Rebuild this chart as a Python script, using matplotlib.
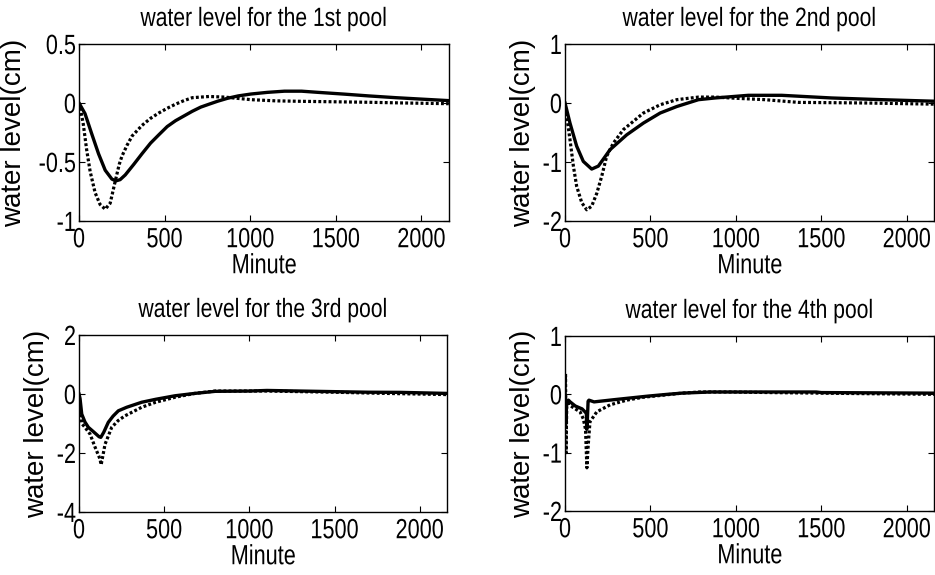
import matplotlib
matplotlib.use("Agg")
import matplotlib.pyplot as plt
from matplotlib.patheffects import AbstractPathEffect
from matplotlib.transforms import Affine2D

plt.rcParams["axes.unicode_minus"] = False

# ---- pool 1 -------------------------------------------------------------
p1_t_solid = [0, 35, 74, 114, 153, 192, 215, 240, 270, 320, 368, 418, 466, 515,
              564, 613, 662, 711, 760, 810, 868, 930, 1005, 1100, 1200, 1300,
              1397, 1550, 1691, 1850, 1985, 2160]
p1_solid = [0, -0.09, -0.26, -0.43, -0.57, -0.645, -0.66, -0.65, -0.61, -0.52,
            -0.43, -0.34, -0.27, -0.2, -0.15, -0.11, -0.07, -0.035, -0.01, 0.015,
            0.04, 0.06, 0.076, 0.09, 0.1, 0.1, 0.09, 0.075, 0.06, 0.045, 0.034,
            0.02]
p1_t_dotted = [0, 6, 25, 45, 65, 94, 123, 153, 182, 212, 235, 251, 280, 310,
               368, 418, 466, 515, 564, 613, 662, 760, 850, 1005, 1150, 1300,
               1500, 1691, 1900, 2160]
p1_dotted = [0, -0.03, -0.18, -0.4, -0.58, -0.76, -0.86, -0.9, -0.85, -0.66,
             -0.52, -0.45, -0.36, -0.28, -0.19, -0.13, -0.085, -0.045, -0.01,
             0.02, 0.045, 0.055, 0.05, 0.028, 0.018, 0.014, 0.01, 0.006, 0,
             -0.006]

# ---- pool 2 -------------------------------------------------------------
p2_t_solid = [0, 29, 68, 107, 156, 195, 264, 361, 459, 557, 654, 781, 878,
              1073, 1268, 1561, 1854, 2160]
p2_solid = [0, -0.34, -0.73, -0.99, -1.12, -1.07, -0.79, -0.54, -0.34, -0.17,
            -0.06, 0.056, 0.085, 0.13, 0.13, 0.085, 0.056, 0.03]
p2_t_dotted = [0, 10, 29, 49, 68, 98, 127, 156, 186, 215, 244, 283, 342, 459,
               557, 654, 781, 878, 1000, 1170, 1366, 1756, 2160]
p2_dotted = [0, -0.23, -0.62, -1.07, -1.41, -1.69, -1.81, -1.75, -1.53, -1.24,
             -0.9, -0.68, -0.45, -0.17, -0.03, 0.056, 0.1, 0.1, 0.08, 0.056,
             0.01, 0, -0.02]

# ---- pool 3 -------------------------------------------------------------
p3_t_solid = [0, 6, 16, 35, 55, 85, 118, 128, 145, 172, 200, 231, 280, 368,
              450, 564, 680, 800, 1000, 1103, 1300, 1495, 1700, 1887, 2160]
p3_solid = [0, -0.15, -0.68, -0.95, -1.13, -1.28, -1.45, -1.47, -1.3, -0.96,
            -0.75, -0.57, -0.45, -0.28, -0.18, -0.06, 0.02, 0.09, 0.1, 0.12,
            0.1, 0.08, 0.06, 0.055, 0.02]
p3_t_dotted = [0, 6, 16, 35, 65, 94, 123, 130, 153, 192, 230, 270, 368, 450,
               564, 680, 800, 1103, 1495, 1800, 2160]
p3_dotted = [0, -0.45, -1.0, -1.13, -1.36, -1.8, -2.2, -2.4, -1.7, -1.13, -0.9,
             -0.74, -0.45, -0.28, -0.11, 0.02, 0.1, 0.1, 0.06, 0.02, -0.02]

# ---- pool 4 -------------------------------------------------------------
p4_t_solid = [0, 3, 6, 9, 20, 30, 60, 100, 117, 125, 127, 130, 135, 140, 170,
              200, 293, 390, 488, 600, 683, 850, 976, 1200, 1470, 1500, 2160]
p4_solid = [0, -0.05, -0.5, -0.15, -0.1, -0.13, -0.2, -0.25, -0.3, -0.33, -0.6,
            -0.5, -0.12, -0.1, -0.13, -0.12, -0.09, -0.06, -0.03, 0.0, 0.02,
            0.04, 0.04, 0.04, 0.04, 0.03, 0.02]
p4_t_dotted = [0, 3, 6, 10, 20, 29, 60, 88, 107, 120, 128, 135, 146, 186, 264,
               361, 457, 557, 683, 791, 976, 1200, 1500, 1800, 2160]
p4_dotted = [0, 0.35, -1.0, -0.2, -0.15, -0.19, -0.25, -0.3, -0.42, -0.6,
             -1.26, -0.9, -0.47, -0.3, -0.18, -0.1, -0.05, -0.02, 0.02, 0.04,
             0.04, 0.03, 0.02, 0.01, 0.0]

titles = ["water level for the 1st pool", "water level for the 2nd pool",
          "water level for the 3rd pool", "water level for the 4th pool"]
y_ticks = [[-1, -0.5, 0, 0.5], [-2, -1, 0, 1], [-4, -2, 0, 2], [-2, -1, 0, 1]]
y_labels = [["-1", "-0.5", "0", "0.5"], ["-2", "-1", "0", "1"],
            ["-4", "-2", "0", "2"], ["-2", "-1", "0", "1"]]
x_ticks = [0, 500, 1000, 1500, 2000]
x_max = 2160

series = [
    (p1_t_solid, p1_solid, p1_t_dotted, p1_dotted),
    (p2_t_solid, p2_solid, p2_t_dotted, p2_dotted),
    (p3_t_solid, p3_solid, p3_t_dotted, p3_dotted),
    (p4_t_solid, p4_solid, p4_t_dotted, p4_dotted),
]

FONT = ["Liberation Sans", "DejaVu Sans"]


class Squeeze(AbstractPathEffect):
    """Draw text narrower than the font, keeping one horizontal anchor fixed."""

    def __init__(self, sx=0.8, anchor="center"):
        super().__init__()
        self.sx = sx
        self.anchor = anchor

    def draw_path(self, renderer, gc, tpath, affine, rgbFace=None):
        ext = tpath.get_extents(affine)
        if self.anchor == "right":
            x0 = ext.x1
        elif self.anchor == "left":
            x0 = ext.x0
        else:
            x0 = 0.5 * (ext.x0 + ext.x1)
        squeeze = Affine2D().translate(-x0, 0).scale(self.sx, 1).translate(x0, 0)
        renderer.draw_path(gc, tpath, affine + squeeze, rgbFace)


fig = plt.figure(figsize=(9.35, 5.75), dpi=100)
boxes = [
    [0.0845, 0.6157, 0.3955, 0.3078],
    [0.6043, 0.6157, 0.3947, 0.3078],
    [0.0845, 0.1096, 0.3935, 0.3078],
    [0.6043, 0.1113, 0.3947, 0.3044],
]

for i, box in enumerate(boxes):
    ax = fig.add_axes(box)
    ts, vs, td, vd = series[i]
    ax.plot(ts, vs, color="black", lw=2.4, solid_joinstyle="round")
    ax.plot(td, vd, color="black", lw=2.3, linestyle=(0, (0.9, 0.7)),
            dash_capstyle="butt")
    ax.set_xlim(0, x_max)
    ax.set_ylim(y_ticks[i][0], y_ticks[i][-1])
    ax.set_xticks(x_ticks)
    xl = ax.set_xticklabels([str(v) for v in x_ticks], family=FONT, fontsize=20)
    ax.set_yticks(y_ticks[i])
    yl = ax.set_yticklabels(y_labels[i], family=FONT, fontsize=20)
    for t in xl:
        t.set_path_effects([Squeeze(0.78, "center")])
    for t in yl:
        t.set_path_effects([Squeeze(0.78, "right")])
    ax.tick_params(direction="in", top=True, right=True, length=4, width=0.8)
    ax.tick_params(axis="x", pad=4.5)
    ax.tick_params(axis="y", pad=2)
    for s in ax.spines.values():
        s.set_linewidth(1.0)
    title = ax.set_title(titles[i], family=FONT, fontsize=19, pad=13)
    title.set_path_effects([Squeeze(0.8, "center")])
    xlab = ax.set_xlabel("Minute", family=FONT, fontsize=20, labelpad=0)
    xlab.set_path_effects([Squeeze(0.78, "center")])
    ax.set_ylabel("water level(cm)", family=FONT, fontsize=20, labelpad=1)

fig.savefig("out.png", dpi=100)
